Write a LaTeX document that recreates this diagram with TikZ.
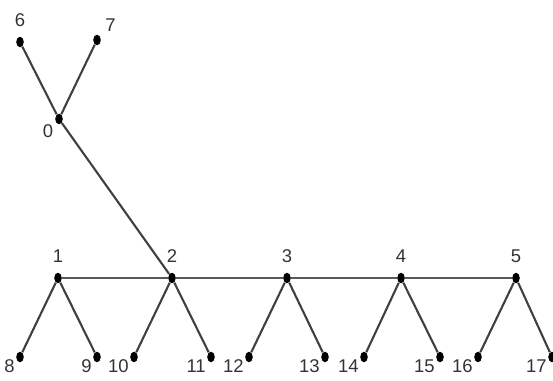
\documentclass[tikz,border=0pt]{standalone}
\usepackage{fontspec}
\setmainfont{Liberation Sans}
\usetikzlibrary{shapes.geometric}

\begin{document}
\begin{tikzpicture}[x=0.02cm, y=-0.02cm,
		vtx/.style={ellipse, fill=black, inner sep=0pt, minimum width=4.3pt, minimum height=6pt},
		lbl/.style={text=black!80, font=\fontsize{10.5}{11}\selectfont, inner sep=0.5pt},
		edge/.style={draw=black!75, line width=1.2pt},
		spine/.style={draw=black!65, line width=1.7pt}]
	% Frame
	\useasboundingbox (0,0) rectangle (553,381);

	% Top vertices
	\node[vtx, label={[lbl, label distance=5pt]above:6}] (v6) at (20,42) {};
	\node[vtx, label={[lbl, label distance=3pt]above right:7}] (v7) at (97,40) {};
	\node[vtx, label={[lbl, label distance=1pt]below left:0}] (v0) at (59,119) {};

	% Spine vertices
	\foreach \i/\x in {1/58, 2/172, 3/287, 4/401, 5/516}
		\node[vtx, label={[lbl, label distance=5pt]above:\i}] (v\i) at (\x,278) {};

	% Leaves
	\foreach \i/\x in {8/20, 9/97, 10/134, 11/211, 12/249, 13/325, 14/364, 15/440, 16/478, 17/552}
		\node[vtx, label={[lbl, label distance=0pt]-165:\i}] (v\i) at (\x,357) {};

	% Edges
	\draw[edge] (v0) -- (v6);
	\draw[edge] (v0) -- (v7);
	\draw[edge] (v0) -- (v2);
	\draw[spine] (v1) -- (v2) -- (v3) -- (v4) -- (v5);
	\foreach \p/\a/\b in {1/8/9, 2/10/11, 3/12/13, 4/14/15, 5/16/17} {
		\draw[edge] (v\p) -- (v\a);
		\draw[edge] (v\p) -- (v\b);
	}
\end{tikzpicture}
\end{document}
